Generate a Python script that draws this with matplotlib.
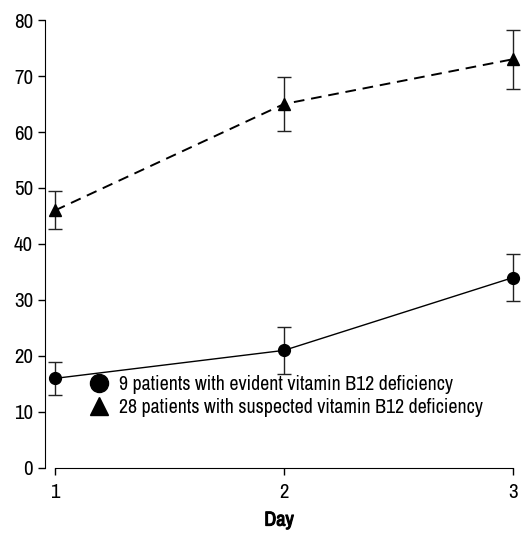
import matplotlib
matplotlib.use("Agg")
import matplotlib.pyplot as plt
from matplotlib import font_manager
import matplotlib.patheffects as pe
from matplotlib.lines import Line2D

# prefer a narrow Helvetica-like face when installed
fonts = font_manager.fontManager.ttflist
narrow = [f for f in fonts if "Narrow" in f.name] or \
         [f for f in fonts if "Condensed" in f.name and "Mono" not in f.name]
if narrow:
    plt.rcParams['font.family'] = [narrow[0].name, 'DejaVu Sans']
else:
    plt.rcParams['font.family'] = ['Liberation Sans', 'DejaVu Sans']

days = [1, 2, 3]
evident_mean = [16, 21, 34]
evident_err = [3.0, 4.2, 4.2]
suspected_mean = [46, 65, 73]
suspected_err = [3.4, 4.8, 5.3]

evident_label = "9 patients with evident vitamin B12 deficiency"
suspected_label = "28 patients with suspected vitamin B12 deficiency"

err_kw = {"ecolor": "#222222", "elinewidth": 1.0, "capsize": 5, "capthick": 1.0, "clip_on": False}

fig = plt.figure(figsize=(5.21, 5.41), dpi=100)
ax = fig.add_axes([0.0864, 0.135, 0.9846 - 0.0864, 0.963 - 0.135])

ax.errorbar(days, evident_mean, yerr=evident_err, fmt="o", color="black",
            ms=8.5, lw=1.0, ls="-", **err_kw)
ax.errorbar(days, suspected_mean, yerr=suspected_err, fmt="^", color="black",
            ms=8.5, lw=1.4, ls=(0, (5.5, 3.5)), **err_kw)

ax.set_xlim(0.956, 3.0)
ax.set_ylim(0, 80)
ax.spines["top"].set_visible(False)
ax.spines["right"].set_visible(False)
ax.spines["bottom"].set_bounds(1, 3)
ax.set_xticks(days)
ax.set_yticks(range(0, 81, 10))
ax.tick_params(axis="both", labelsize=15, length=5, width=1.0)
ax.tick_params(axis="x", pad=6)
# the narrow face has no bold cut, so thicken the glyphs with a stroke
ax.set_xlabel("Day", fontsize=14.5, fontweight="bold", labelpad=6,
              path_effects=[pe.withStroke(linewidth=0.8, foreground="black")])

handles = [Line2D([], [], ls="none", marker="o", color="black", ms=13),
           Line2D([], [], ls="none", marker="^", color="black", ms=13)]
ax.legend(handles, [evident_label, suspected_label], loc="lower left",
          bbox_to_anchor=(0.06, 0.078), frameon=False, fontsize=14.3,
          handlelength=1.0, handletextpad=0.5, labelspacing=0.2,
          borderpad=0.3)

plt.savefig("out.png", dpi=100)
